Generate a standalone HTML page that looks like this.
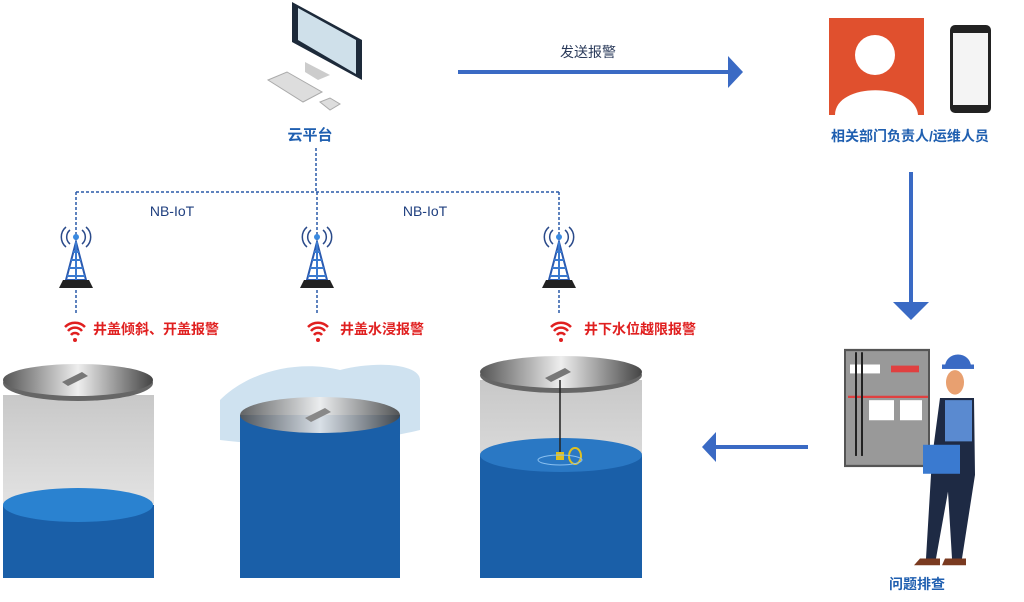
<!DOCTYPE html>
<html><head><meta charset="utf-8"><style>
html,body{margin:0;padding:0;background:#fff}
svg{display:block}
text{font-family:"Liberation Sans","Noto Sans CJK SC",sans-serif}
</style></head><body>
<svg width="1024" height="602" viewBox="0 0 1024 602" xmlns="http://www.w3.org/2000/svg">
<defs>
<linearGradient id="lid" x1="0" x2="1"><stop offset="0" stop-color="#555"/><stop offset="0.5" stop-color="#eee"/><stop offset="1" stop-color="#444"/></linearGradient>
<linearGradient id="glass" x1="0" y1="0" x2="0" y2="1"><stop offset="0" stop-color="#c8c8c8"/><stop offset="1" stop-color="#f4f4f4"/></linearGradient>
<g id="tower"><path d="M-6,-10 a9,9 0 0,0 0,14 M6,-10 a9,9 0 0,1 0,14 M-10,-13 a13,13 0 0,0 0,20 M10,-13 a13,13 0 0,1 0,20" stroke="#2a4a8a" stroke-width="1.5" fill="none"/><circle cx="0" cy="-3" r="3" fill="#3a8ae0"/><path d="M0,2 L-10,40 L10,40 Z" fill="none" stroke="#2a5ab0" stroke-width="2"/><path d="M-3,12 H3 M-5,20 H5 M-7,28 H7 M-9,36 H9 M0,2 V40" stroke="#3a7ad0" stroke-width="2"/><path d="M-13,40 H13 L17,48 H-17 Z" fill="#222"/></g>
<g id="wifi"><path d="M-10,-3 a14,14 0 0,1 20,0 M-7,1 a9,9 0 0,1 14,0 M-4,5 a5,5 0 0,1 8,0" stroke="#e02020" stroke-width="2.5" fill="none"/><circle cx="0" cy="10" r="2" fill="#e02020"/></g>
</defs>
<!-- computer -->
<path d="M292,2 L362,40 L362,80 L292,42 Z" fill="#1d2a3a"/>
<path d="M298,8 L356,40 L356,74 L298,40 Z" fill="#cfe0ea"/>
<path d="M305,62 L330,75 L318,80 L305,72 Z" fill="#ccc"/>
<path d="M268,80 L287,72 L322,92 L303,102 Z" fill="#ddd" stroke="#aaa"/>
<path d="M320,102 L330,98 L340,104 L330,110 Z" fill="#ddd" stroke="#aaa"/>
<text x="310" y="140" text-anchor="middle" font-size="15" font-weight="bold" fill="#1f5fb0">云平台</text>
<g stroke="#2a5aa8" stroke-width="1.5" stroke-dasharray="3,2" fill="none">
<path d="M316,148 V192 M76,192 H559 M76,192 V235 M317,192 V235 M559,192 V235 M76,285 V315 M317,285 V315 M559,285 V315"/>
</g>
<text x="172" y="216" text-anchor="middle" font-size="14" fill="#1f3f7f">NB-IoT</text>
<text x="425" y="216" text-anchor="middle" font-size="14" fill="#1f3f7f">NB-IoT</text>
<use href="#tower" x="76" y="240"/><use href="#tower" x="317" y="240"/><use href="#tower" x="559" y="240"/>
<use href="#wifi" x="75" y="330"/><use href="#wifi" x="318" y="330"/><use href="#wifi" x="561" y="330"/>
<g font-size="14" font-weight="bold" fill="#e02020">
<text x="93" y="334">井盖倾斜、开盖报警</text>
<text x="340" y="334">井盖水浸报警</text>
<text x="584" y="334">井下水位越限报警</text>
</g>
<!-- well 1 -->
<rect x="3" y="395" width="151" height="183" fill="url(#glass)"/>
<rect x="3" y="505" width="151" height="73" fill="#1a5fa8"/>
<ellipse cx="78" cy="505" rx="75" ry="17" fill="#2a82d0"/>
<ellipse cx="78" cy="383" rx="75" ry="18" fill="#666"/>
<ellipse cx="78" cy="380" rx="75" ry="16" fill="url(#lid)"/>
<path d="M62,382 L82,372 L88,376 L68,386 Z" fill="#777"/>
<!-- well 2 -->
<path d="M220,400 C250,370 300,360 340,370 C380,360 420,365 420,380 L420,430 C380,440 300,450 220,440 Z" fill="#cfe2f0"/>
<rect x="240" y="415" width="160" height="163" fill="#1a5fa8"/>
<ellipse cx="320" cy="415" rx="80" ry="18" fill="url(#lid)" opacity="0.9"/>
<path d="M305,418 L325,408 L331,412 L311,422 Z" fill="#888"/>
<!-- well 3 -->
<rect x="480" y="380" width="162" height="198" fill="url(#glass)"/>
<rect x="480" y="455" width="162" height="123" fill="#1a5fa8"/>
<ellipse cx="561" cy="455" rx="81" ry="17" fill="#2a78c4"/>
<ellipse cx="561" cy="375" rx="81" ry="18" fill="#666"/>
<ellipse cx="561" cy="372" rx="81" ry="16" fill="url(#lid)"/>
<path d="M545,378 L565,368 L571,372 L551,382 Z" fill="#777"/>
<line x1="560" y1="380" x2="560" y2="455" stroke="#222" stroke-width="1.5"/>
<rect x="556" y="452" width="8" height="8" fill="#e0c020"/>
<ellipse cx="575" cy="456" rx="6" ry="8" fill="none" stroke="#e0c020" stroke-width="2"/>
<ellipse cx="560" cy="460" rx="22" ry="5" fill="none" stroke="#8ac0f0"/>
<!-- arrows -->
<text x="588" y="57" text-anchor="middle" font-size="14" fill="#2a3a5a">发送报警</text>
<path d="M458,72 H732" stroke="#3a6ac4" stroke-width="4"/>
<path d="M728,56 L743,72 L728,88 Z" fill="#3a6ac4"/>
<path d="M911,172 V305" stroke="#3a6ac4" stroke-width="4"/>
<path d="M893,302 L911,320 L929,302 Z" fill="#3a6ac4"/>
<path d="M808,447 H713" stroke="#3a6ac4" stroke-width="4"/>
<path d="M716,432 L702,447 L716,462 Z" fill="#3a6ac4"/>
<!-- person card -->
<rect x="829" y="18" width="95" height="97" fill="#e0502e"/>
<circle cx="875" cy="55" r="20" fill="#fff"/>
<path d="M835,115 C835,82 915,82 918,115 Z" fill="#fff"/>
<rect x="950" y="25" width="41" height="88" rx="5" fill="#222"/>
<rect x="953" y="33" width="35" height="72" fill="#f4f4f4"/>
<text x="910" y="141" text-anchor="middle" font-size="14" font-weight="bold" fill="#1f5fb0">相关部门负责人/运维人员</text>
<g transform="translate(0,350) scale(1,1.115) translate(0,-303)">
<rect x="845" y="303" width="84" height="104" fill="#999" stroke="#555" stroke-width="2"/>
<rect x="850" y="316" width="30" height="8" fill="#fff"/><rect x="891" y="317" width="28" height="6" fill="#e04040"/>
<line x1="848" y1="345" x2="928" y2="345" stroke="#e04040" stroke-width="2"/>
<rect x="869" y="348" width="25" height="18" fill="#fff"/><rect x="900" y="348" width="22" height="18" fill="#fff"/>
<line x1="856" y1="305" x2="856" y2="398" stroke="#222" stroke-width="2"/><line x1="862" y1="305" x2="862" y2="398" stroke="#222" stroke-width="2"/>
<path d="M945,318 a13,11 0 0,1 26,0 Z" fill="#3a6ac4"/>
<rect x="942" y="316" width="32" height="4" fill="#3a6ac4"/>
<ellipse cx="955" cy="332" rx="9" ry="11" fill="#e8a070"/>
<path d="M940,346 L974,346 L975,415 L962,490 L952,490 L948,430 L936,490 L926,490 L932,400 Z" fill="#1e2a44"/>
<path d="M945,348 L972,348 L972,385 L945,385 Z" fill="#5a8ad0"/>
<rect x="923" y="388" width="37" height="26" fill="#3a7ad0"/>
<path d="M920,490 H940 V496 H914 Z M945,490 H966 V496 H942 Z" fill="#7a3a20"/>
</g>
<text x="917" y="589" text-anchor="middle" font-size="14" font-weight="bold" fill="#1f5fb0">问题排查</text>
</svg>
</body></html>
